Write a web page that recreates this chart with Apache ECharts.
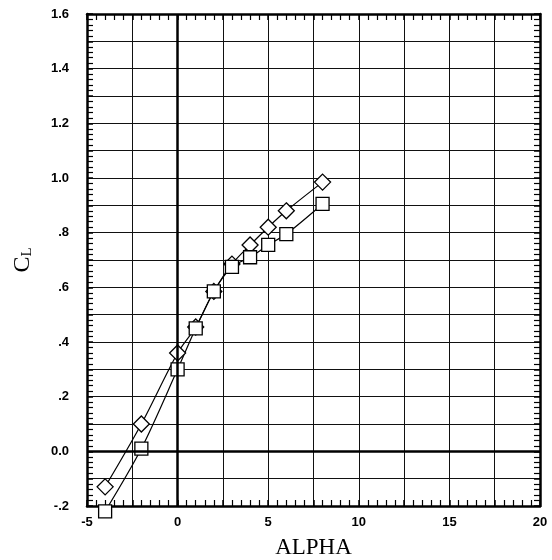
<!DOCTYPE html>
<html><head><meta charset="utf-8">
<script src="https://cdn.jsdelivr.net/npm/echarts@6/dist/echarts.min.js"></script>
<style>html,body{margin:0;padding:0;background:#fff}#c{width:552px;height:560px}</style>
</head><body><div id="c"></div>
<script>
var diamondAlpha = [-4, -2, 0, 1, 2, 3, 4, 5, 6, 8];
var diamondCL = [-0.13, 0.10, 0.36, 0.455, 0.585, 0.685, 0.755, 0.82, 0.88, 0.985];
var squareAlpha = [-4, -2, 0, 1, 2, 3, 4, 5, 6, 8];
var squareCL = [-0.22, 0.01, 0.30, 0.45, 0.585, 0.675, 0.71, 0.755, 0.795, 0.905];
var yTickLabels = {"-0.2": "-.2", "0": "0.0", "0.2": ".2", "0.4": ".4", "0.6": ".6", "0.8": ".8", "1": "1.0", "1.2": "1.2", "1.4": "1.4", "1.6": "1.6"};

function pairs(xs, ys) { return xs.map(function (x, i) { return [x, ys[i]]; }); }

var chart = echarts.init(document.getElementById('c'));
var labelFont = {fontFamily: 'Liberation Sans', fontWeight: 'bold', fontSize: 13, color: '#000'};
var axLine = {show: true, onZero: false, lineStyle: {color: '#000', width: 2.5}};
var gridLine = {show: true, lineStyle: {color: '#111', width: 1}};
function xAxis(pos, show) {
  return {type: 'value', position: pos, min: -5, max: 20, interval: 2.5,
    axisLine: axLine,
    axisTick: {show: true, inside: true, length: 6, lineStyle: {color: '#000', width: 1.5}},
    minorTick: {show: true, splitNumber: 5, length: 6, lineStyle: {color: '#000', width: 1.2}},
    splitLine: show ? gridLine : {show: false},
    axisLabel: show ? Object.assign({margin: 10, formatter: function (v) { return (v % 5 === 0) ? String(v) : ''; }}, labelFont) : {show: false},
    name: show ? 'ALPHA' : '', nameLocation: 'middle', nameGap: 30,
    nameTextStyle: {fontFamily: 'Liberation Serif', fontSize: 23, color: '#000'}};
}
function yAxis(pos, show) {
  return {type: 'value', position: pos, min: -0.2, max: 1.6, interval: 0.1,
    axisLine: axLine,
    axisTick: {show: true, inside: true, length: 6, lineStyle: {color: '#000', width: 1.5}},
    minorTick: {show: true, splitNumber: 5, length: 6, lineStyle: {color: '#000', width: 1.2}},
    splitLine: show ? gridLine : {show: false},
    axisLabel: show ? Object.assign({margin: 18, formatter: function (v) { var k = String(Math.round(v * 10) / 10); return yTickLabels[k] || ''; }}, labelFont) : {show: false},
    name: show ? '{c|C}{l|L}' : '', nameLocation: 'middle', nameGap: 52, nameRotate: 90,
    nameTextStyle: {rich: {c: {fontFamily: 'Liberation Serif', fontSize: 24, color: '#000'}, l: {fontFamily: 'Liberation Serif', fontSize: 15, color: '#000', padding: [10, 0, 0, 0]}}}};
}
chart.setOption({
  animation: false,
  backgroundColor: '#fff',
  grid: {left: 87, right: 12, top: 14, bottom: 54, containLabel: false, outerBoundsMode: 'none'},
  xAxis: [xAxis('bottom', true), xAxis('top', false)],
  yAxis: [yAxis('left', true), yAxis('right', false)],
  series: [
    {type: 'line', data: pairs(diamondAlpha, diamondCL), smooth: 0.3, clip: false,
      symbol: 'diamond', symbolSize: 16,
      lineStyle: {color: '#000', width: 1.2},
      itemStyle: {color: '#fff', borderColor: '#000', borderWidth: 1.3},
      markLine: {silent: true, symbol: 'none', label: {show: false},
        lineStyle: {color: '#000', width: 2.5, type: 'solid'},
        data: [{xAxis: 0}, {yAxis: 0}]}},
    {type: 'line', data: pairs(squareAlpha, squareCL), smooth: 0.3, clip: false,
      symbol: 'rect', symbolSize: 13,
      lineStyle: {color: '#000', width: 1.2},
      itemStyle: {color: '#fff', borderColor: '#000', borderWidth: 1.3}}
  ]
});
</script></body></html>
